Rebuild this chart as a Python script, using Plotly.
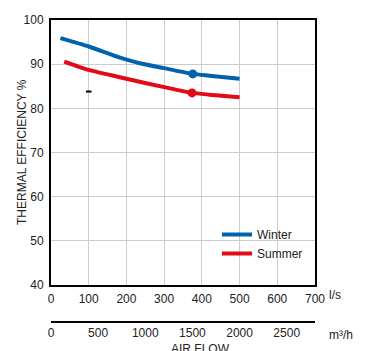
import plotly.graph_objects as go

# Data
winter_x = [25, 100, 175, 235, 300, 376, 420, 500]
winter_y = [95.9, 94.0, 91.7, 90.2, 89.1, 87.8, 87.4, 86.7]
summer_x = [35, 100, 200, 300, 374, 420, 500]
summer_y = [90.6, 88.7, 86.7, 84.8, 83.5, 83.1, 82.5]
winter_marker = (376, 87.8)
summer_marker = (374, 83.5)
stray_mark = (100, 83.8)

x_ticks_ls = [0, 100, 200, 300, 400, 500, 600, 700]
x_ticks_m3h = [0, 500, 1000, 1500, 2000, 2500]
y_ticks = [40, 50, 60, 70, 80, 90, 100]

BLUE = "#0062AC"
RED = "#E30A17"
FONT = "Liberation Sans, Arial, sans-serif"
TXT = "#222"

fig = go.Figure()
fig.add_trace(go.Scatter(x=winter_x, y=winter_y, mode="lines", name="Winter",
                         line=dict(color=BLUE, width=4, shape="spline", smoothing=0.6)))
fig.add_trace(go.Scatter(x=summer_x, y=summer_y, mode="lines", name="Summer",
                         line=dict(color=RED, width=4, shape="spline", smoothing=0.6)))
fig.add_trace(go.Scatter(x=[winter_marker[0]], y=[winter_marker[1]], mode="markers",
                         marker=dict(color=BLUE, size=9), showlegend=False))
fig.add_trace(go.Scatter(x=[summer_marker[0]], y=[summer_marker[1]], mode="markers",
                         marker=dict(color=RED, size=9), showlegend=False))
fig.add_trace(go.Scatter(x=[stray_mark[0]], y=[stray_mark[1]], mode="markers",
                         marker=dict(color="black", size=4, symbol="line-ew",
                                     line=dict(color="black", width=2)), showlegend=False))
# dummy trace on secondary axis to activate it
fig.add_trace(go.Scatter(x=[0], y=[40], xaxis="x2", mode="markers",
                         marker=dict(opacity=0), showlegend=False, hoverinfo="skip"))

W, H = 370, 351
ml, mr, mt, mb = 51, 55, 20, 29
pw = W - ml - mr
ph = H - mt - mb
plot_bottom = 285
dom0 = (H - mb - plot_bottom) / ph


def px(x):
    return (x - ml) / pw


def py(y):
    return (H - mb - y) / ph


fig.update_layout(
    width=W, height=H,
    margin=dict(l=ml, r=mr, t=mt, b=mb, autoexpand=False),
    paper_bgcolor="white", plot_bgcolor="white",
    font=dict(family=FONT, size=12, color=TXT),
    showlegend=True,
    legend=dict(x=px(217), y=py(220), xanchor="left", yanchor="top",
                bgcolor="rgba(0,0,0,0)", font=dict(size=12, color=TXT),
                tracegroupgap=0, itemwidth=30),
    xaxis=dict(range=[0, 700], tickvals=x_ticks_ls, showgrid=True, automargin=False,
               gridcolor="#cccccc", gridwidth=1, showline=True, linecolor="black",
               linewidth=2, mirror=True, ticks="", zeroline=False,
               tickfont=dict(size=12, color=TXT), ticklabelstandoff=2),
    xaxis2=dict(range=[0, 2800], tickvals=x_ticks_m3h, overlaying="x", anchor="free",
                position=0, side="bottom", showgrid=False, showline=True, automargin=False,
                linecolor="black", linewidth=1.5, ticks="", zeroline=False,
                ticklabelstandoff=0,
                tickfont=dict(size=12, color=TXT)),
    yaxis=dict(range=[40, 100], tickvals=y_ticks, domain=[dom0, 1], showgrid=True,
               automargin=False,
               gridcolor="#cccccc", gridwidth=1, showline=True, linecolor="black",
               linewidth=2, mirror=True, ticks="", zeroline=False,
               tickfont=dict(size=12, color=TXT), ticklabelstandoff=3),
)

fig.add_annotation(text="THERMAL EFFICIENCY %", x=px(22), y=py(152), xref="paper",
                   yref="paper", textangle=-90, xanchor="center", yanchor="middle",
                   showarrow=False, font=dict(size=12, color=TXT))
fig.add_annotation(text="l/s", x=px(327), y=py(295), xref="paper", yref="paper",
                   xanchor="left", yanchor="middle", showarrow=False,
                   font=dict(size=12, color=TXT))
fig.add_annotation(text="m³/h", x=px(327), y=py(335), xref="paper", yref="paper",
                   xanchor="left", yanchor="middle", showarrow=False,
                   font=dict(size=12, color=TXT))
fig.add_annotation(text="AIR FLOW", x=px(200), y=py(349), xref="paper", yref="paper",
                   xanchor="center", yanchor="middle", showarrow=False,
                   font=dict(size=12, color=TXT))

fig.write_html("out.html", config={"displayModeBar": False},
               post_script="document.body.style.margin='0px';")
